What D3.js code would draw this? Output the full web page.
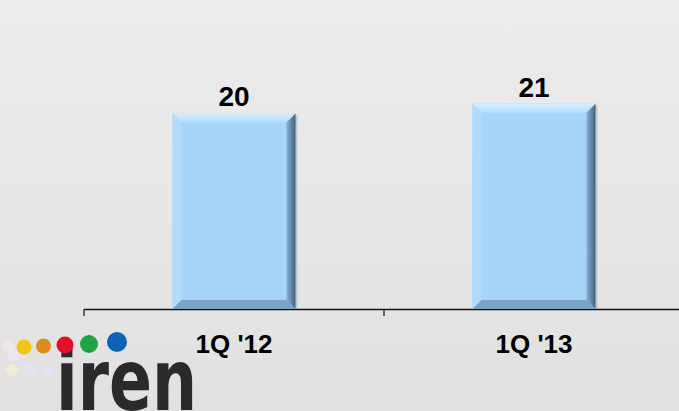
<!DOCTYPE html>
<html>
<head>
<meta charset="utf-8">
<script src="https://cdn.jsdelivr.net/npm/d3@7"></script>
<style>
  body { margin: 0; }
  svg { display: block; }
</style>
</head>
<body>
<svg width="679" height="411"></svg>
<script>
// data
var categories = ["1Q '12", "1Q '13"];
var values = [20, 21];
var valueLabels = ["20", "21"];

// logo dots (iren)
var logoColors = ["#f2c418", "#dd8c1c", "#e3102c", "#20a344", "#0f62b4"];

var svg = d3.select("svg");
var width = 679, height = 411;

// background gradient
var defs = svg.append("defs");
var bg = defs.append("linearGradient").attr("id", "bg").attr("x1", 0).attr("y1", 0).attr("x2", 0).attr("y2", 1);
bg.append("stop").attr("offset", "0%").attr("stop-color", "#ececec");
bg.append("stop").attr("offset", "100%").attr("stop-color", "#e1e1e1");
svg.append("rect").attr("width", width).attr("height", height).attr("fill", "url(#bg)");

// bevel shades of bars
var rs = defs.append("linearGradient").attr("id", "rs").attr("x1", 0).attr("y1", 0).attr("x2", 1).attr("y2", 0);
rs.append("stop").attr("offset", "0%").attr("stop-color", "#86b0d6");
rs.append("stop").attr("offset", "100%").attr("stop-color", "#46627c");
var ts = defs.append("linearGradient").attr("id", "ts").attr("x1", 0).attr("y1", 0).attr("x2", 0).attr("y2", 1);
ts.append("stop").attr("offset", "0%").attr("stop-color", "#d6eeff");
ts.append("stop").attr("offset", "100%").attr("stop-color", "#b2ddfd");

var x = d3.scaleBand()
  .domain(categories)
  .range([84, 684])
  .paddingInner(0.59)
  .paddingOuter(0.295);

var y = d3.scaleLinear()
  .domain([0, 31.6])
  .range([309, 0]);

// axis
var axis = d3.axisBottom(d3.scaleBand().domain(categories).range([84, 684]))
  .tickSize(0)
  .tickFormat("");
var gAxis = svg.append("g").attr("transform", "translate(0,309)").call(axis);
gAxis.select(".domain").attr("stroke", "#111").attr("stroke-width", 1.5);

// category boundary ticks
var bounds = [84, 384, 684];
svg.selectAll(".tick-b")
  .data(bounds)
  .enter()
  .append("line")
  .attr("x1", function(d){ return d; })
  .attr("x2", function(d){ return d; })
  .attr("y1", 309)
  .attr("y2", 316)
  .attr("stroke", "#111")
  .attr("stroke-width", 1.2);

// bars with bevel
var bv = 9;
var bar = svg.selectAll(".bar")
  .data(values)
  .enter()
  .append("g")
  .attr("class", "bar");

bar.append("rect")
  .attr("x", function(d, i){ return x(categories[i]) + 2; })
  .attr("y", function(d){ return y(d) + 2; })
  .attr("width", x.bandwidth())
  .attr("height", function(d){ return 309 - y(d) - 2; })
  .attr("fill", "#9aa6b0")
  .attr("opacity", 0.5);

bar.append("rect")
  .attr("x", function(d, i){ return x(categories[i]); })
  .attr("y", function(d){ return y(d); })
  .attr("width", x.bandwidth())
  .attr("height", function(d){ return 309 - y(d); })
  .attr("fill", "#a6d5fb");

function pts(arr) { return arr.map(function(p){ return p.join(","); }).join(" "); }

// top bevel
bar.append("polygon")
  .attr("fill", "url(#ts)")
  .attr("points", function(d, i){
    var x0 = x(categories[i]), x1 = x0 + x.bandwidth(), y0 = y(d);
    return pts([[x0, y0], [x1, y0], [x1 - bv, y0 + bv], [x0 + bv, y0 + bv]]);
  });
// left bevel
bar.append("polygon")
  .attr("fill", "#b2dafb")
  .attr("points", function(d, i){
    var x0 = x(categories[i]), y0 = y(d);
    return pts([[x0, y0], [x0 + bv, y0 + bv], [x0 + bv, 309 - bv], [x0, 309]]);
  });
// right bevel
bar.append("polygon")
  .attr("fill", "url(#rs)")
  .attr("points", function(d, i){
    var x1 = x(categories[i]) + x.bandwidth(), y0 = y(d);
    return pts([[x1, y0], [x1, 309], [x1 - bv, 309 - bv], [x1 - bv, y0 + bv]]);
  });
// bottom bevel
bar.append("polygon")
  .attr("fill", "#7ca2c6")
  .attr("points", function(d, i){
    var x0 = x(categories[i]), x1 = x0 + x.bandwidth();
    return pts([[x0, 309], [x1, 309], [x1 - bv, 309 - bv], [x0 + bv, 309 - bv]]);
  });

// value labels
svg.selectAll(".val")
  .data(values)
  .enter()
  .append("text")
  .attr("x", function(d, i){ return x(categories[i]) + x.bandwidth() / 2; })
  .attr("y", function(d){ return y(d) - 7; })
  .attr("text-anchor", "middle")
  .attr("font-family", "Liberation Sans, Arial, sans-serif")
  .attr("font-weight", "bold")
  .attr("font-size", 28)
  .attr("fill", "#000")
  .text(function(d, i){ return valueLabels[i]; });

// category labels
svg.selectAll(".cat")
  .data(categories)
  .enter()
  .append("text")
  .attr("x", function(d){ return x(d) + x.bandwidth() / 2; })
  .attr("y", 353)
  .attr("text-anchor", "middle")
  .attr("font-family", "Liberation Sans, Arial, sans-serif")
  .attr("font-weight", "bold")
  .attr("font-size", 26)
  .attr("fill", "#000")
  .text(function(d){ return d; });

// logo
var logo = svg.append("g");
logo.append("text")
  .attr("x", 56)
  .attr("y", 410)
  .attr("font-family", "DejaVu Sans Condensed, DejaVu Sans, sans-serif")
  .attr("font-weight", "bold")
  .attr("font-size", 86)
  .attr("textLength", 141)
  .attr("lengthAdjust", "spacingAndGlyphs")
  .attr("fill", "#2a2a2a")
  .text("iren");

// faint ghost dots
var ghost = [[8, 346, "#efe6ea"], [12, 370, "#f1edd4"], [30, 370, "#ebe0f0"], [48, 370, "#e8e0f2"], [14, 356, "#ece4f0"]];
logo.selectAll(".ghost")
  .data(ghost)
  .enter()
  .append("circle")
  .attr("cx", function(d){ return d[0]; })
  .attr("cy", function(d){ return d[1]; })
  .attr("r", 6)
  .attr("fill", function(d){ return d[2]; });

var dotX = [24, 43.5, 65, 89, 117];
var dotY = [347, 346, 345, 344, 342];
var dotR = [7.5, 7.5, 8.5, 9, 10];
logo.selectAll(".dot")
  .data(logoColors)
  .enter()
  .append("circle")
  .attr("cx", function(d, i){ return dotX[i]; })
  .attr("cy", function(d, i){ return dotY[i]; })
  .attr("r", function(d, i){ return dotR[i]; })
  .attr("fill", function(d){ return d; });
</script>
</body>
</html>
